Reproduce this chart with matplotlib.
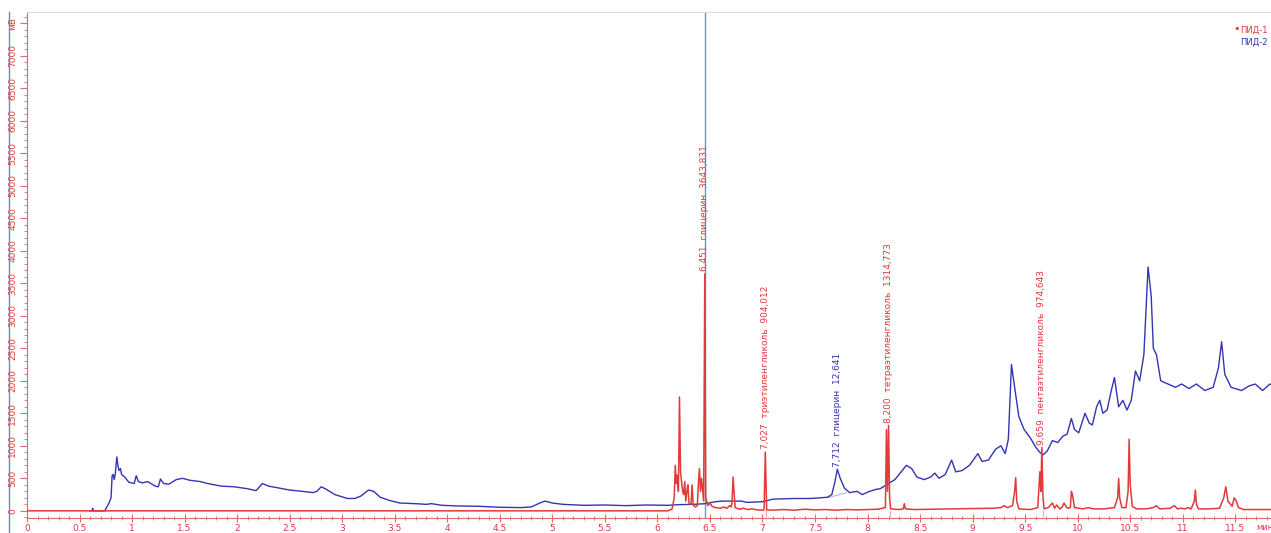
import numpy as np
import matplotlib.pyplot as plt
from matplotlib.ticker import MultipleLocator, FuncFormatter

plt.rcParams['font.family'] = ['DejaVu Sans']

# ПИД-1 (red detector trace): time, мВ
red_t = [0.0, 6.10, 6.14, 6.16, 6.17, 6.18, 6.19, 6.20, 6.21, 6.22, 6.23, 6.24,
         6.25, 6.26, 6.27, 6.28, 6.29, 6.30, 6.32, 6.33, 6.34, 6.36, 6.38, 6.39,
         6.40, 6.41, 6.42, 6.44, 6.451, 6.46, 6.48, 6.50, 6.52, 6.55, 6.60, 6.63,
         6.66, 6.69, 6.70, 6.71, 6.72, 6.74, 6.78, 6.82, 6.86, 6.90, 6.95, 7.00,
         7.015, 7.027, 7.04, 7.10, 7.20, 7.30, 7.40, 7.50, 7.60, 7.70, 7.80, 7.90,
         8.00, 8.10, 8.17, 8.18, 8.19, 8.200, 8.21, 8.22, 8.30, 8.34, 8.35, 8.36,
         8.45, 8.60, 8.80, 9.00, 9.20, 9.27, 9.30, 9.33, 9.38, 9.40, 9.41, 9.42,
         9.44, 9.55, 9.62, 9.64, 9.65, 9.659, 9.67, 9.68, 9.72, 9.76, 9.78, 9.80,
         9.83, 9.85, 9.87, 9.90, 9.93, 9.94, 9.95, 9.97, 10.05, 10.10, 10.15,
         10.25, 10.35, 10.38, 10.39, 10.40, 10.42, 10.46, 10.48, 10.49, 10.50,
         10.52, 10.56, 10.65, 10.72, 10.75, 10.78, 10.88, 10.92, 10.95, 10.98,
         11.02, 11.05, 11.08, 11.11, 11.12, 11.13, 11.15, 11.25, 11.35, 11.39,
         11.41, 11.43, 11.47, 11.49, 11.51, 11.53, 11.58, 11.70, 11.90]
red_v = [0, 0, 30, 200, 700, 420, 550, 300, 1750, 600, 450, 300,
         250, 450, 150, 300, 400, 120, 100, 400, 90, 60, 80, 420,
         650, 300, 500, 150, 3643.831, 200, 80, 120, 70, 50, 40, 60,
         40, 80, 60, 120, 520, 50, 25, 40, 20, 30, 15, 10,
         20, 904.012, 15, 10, 20, 10, 25, 15, 20, 10, 20, 15,
         20, 25, 50, 1250, 300, 1314.773, 200, 30, 20, 30, 110, 30,
         20, 25, 30, 35, 40, 50, 80, 50, 80, 300, 510, 150,
         30, 20, 50, 600, 300, 974.643, 200, 30, 50, 120, 40, 90,
         30, 50, 120, 40, 50, 300, 250, 50, 30, 50, 30,
         30, 50, 200, 500, 200, 50, 50, 300, 1100, 400,
         70, 30, 30, 50, 80, 30, 40, 80, 30, 40,
         30, 50, 30, 150, 320, 100, 30, 30, 40, 200,
         370, 150, 70, 200, 150, 50, 20, 20, 20]

# ПИД-2 (blue detector trace)
blue_t = [0.60, 0.62, 0.625, 0.63, 0.74, 0.76, 0.78, 0.80, 0.81, 0.82, 0.83,
          0.84, 0.855, 0.865, 0.875, 0.89, 0.90, 0.93, 0.97, 1.02, 1.04, 1.06,
          1.10, 1.15, 1.22, 1.25, 1.27, 1.30, 1.35, 1.42, 1.48, 1.55, 1.65,
          1.72, 1.85, 1.97, 2.10, 2.18, 2.24, 2.30, 2.40, 2.50, 2.62, 2.72,
          2.76, 2.80, 2.85, 2.93, 3.05, 3.12, 3.18, 3.25, 3.30, 3.36, 3.45,
          3.55, 3.70, 3.80, 3.85, 3.95, 4.10, 4.30, 4.50, 4.70, 4.80, 4.88,
          4.93, 5.00, 5.10, 5.30, 5.50, 5.70, 5.90, 6.10, 6.20, 6.35, 6.45,
          6.55, 6.62, 6.80, 6.85, 7.00, 7.10, 7.30, 7.45, 7.55, 7.62, 7.66,
          7.69, 7.712, 7.74, 7.78, 7.83, 7.90, 7.95, 8.02, 8.08, 8.12, 8.20,
          8.26, 8.30, 8.37, 8.42, 8.47, 8.54, 8.60, 8.64, 8.68, 8.74, 8.80,
          8.84, 8.90, 8.97, 9.05, 9.09, 9.15, 9.22, 9.27, 9.31, 9.34, 9.37,
          9.40, 9.44, 9.49, 9.55, 9.60, 9.64, 9.67, 9.71, 9.76, 9.81, 9.86,
          9.90, 9.94, 9.97, 10.01, 10.07, 10.11, 10.14, 10.18, 10.21, 10.24,
          10.28, 10.32, 10.35, 10.39, 10.43, 10.47, 10.51, 10.55, 10.59,
          10.63, 10.67, 10.70, 10.72, 10.75, 10.79, 10.86, 10.93, 10.99,
          11.06, 11.13, 11.21, 11.29, 11.34, 11.37, 11.40, 11.46, 11.56,
          11.63, 11.69, 11.76, 11.83, 11.90]
blue_v = [0, 0, 40, 0, 0, 60, 120, 200, 540, 560, 480,
          560, 830, 700, 620, 650, 560, 520, 440, 420, 540, 450,
          430, 450, 380, 370, 490, 420, 410, 480, 500, 470, 450,
          420, 380, 370, 340, 310, 420, 380, 350, 320, 300, 280,
          300, 370, 330, 250, 190, 190, 230, 320, 300, 210, 160,
          120, 110, 100, 110, 85, 75, 70, 55, 50, 60, 120,
          150, 120, 100, 85, 90, 80, 90, 85, 95, 100, 110,
          140, 150, 150, 130, 140, 180, 190, 190, 200, 210, 250,
          450, 640, 500, 350, 280, 300, 250, 300, 330, 340, 420,
          480, 560, 700, 650, 520, 480, 520, 580, 500, 560, 780,
          600, 620, 700, 880, 760, 780, 950, 1000, 880, 1100, 2250,
          1900, 1450, 1250, 1120, 980, 900, 860, 920, 1080, 1050, 1150,
          1180, 1420, 1250, 1200, 1500, 1350, 1320, 1600, 1700, 1500,
          1550, 1850, 2050, 1600, 1700, 1550, 1700, 2150, 2000,
          2400, 3750, 3300, 2500, 2400, 2000, 1950, 1900, 1950,
          1880, 1950, 1850, 1900, 2200, 2600, 2100, 1900, 1850,
          1920, 1950, 1850, 1950, 1900]

# peak annotations: time, height, text
red_labels = [(6.451, 3643.831, '6,451  глицерин  3643,831'),
              (7.027, 904.012, '7,027  триэтиленгликоль  904,012'),
              (8.200, 1314.773, '8,200  тетраэтиленгликоль  1314,773'),
              (9.659, 974.643, '9,659  пентаэтиленгликоль  974,643')]
blue_labels = [(7.712, 640, '7,712  глицерин  12,641')]

cursor_t = 6.451

RED = '#e03a3a'
BLUE = '#3434b4'
AXRED = '#e06a6a'

fig = plt.figure(figsize=(12.71, 5.33), dpi=100)
ax = fig.add_axes([27 / 1271, 15 / 533, 1244 / 1271, 506 / 533])
ax.set_xlim(0, 11.84)
ax.set_ylim(-110, 7670)

ax.axvline(cursor_t, color='#4aa3d8', lw=1.0, zorder=1)
ax.plot(blue_t, blue_v, color=BLUE, lw=1.0, zorder=2)
ax.plot(red_t, red_v, color=RED, lw=1.1, zorder=3)

# integration markers under the labelled peaks
for t, h, _ in red_labels[1:]:
    ax.plot([t + 0.01, t + 0.01], [0, -80], color='#f0a8a8', lw=0.8, zorder=2)
ax.plot([7.62, 7.80], [200, 280], color='#b0b8e8', lw=0.8, zorder=1)

for t, h, s in red_labels:
    ax.text(t, h + 40, s, rotation=90, ha='center', va='bottom',
            fontsize=6.5, color=RED)
for t, h, s in blue_labels:
    ax.text(t, h + 40, s, rotation=90, ha='center', va='bottom',
            fontsize=6.5, color=BLUE)

ax.spines['right'].set_visible(False)
ax.spines['top'].set_color('#dcdcdc')
ax.spines['top'].set_linewidth(0.8)
ax.spines['left'].set_color(AXRED)
ax.spines['bottom'].set_color(AXRED)

ax.xaxis.set_major_locator(MultipleLocator(0.5))
ax.xaxis.set_minor_locator(MultipleLocator(0.1))
ax.yaxis.set_major_locator(MultipleLocator(500))
ax.yaxis.set_minor_locator(MultipleLocator(100))
ax.xaxis.set_major_formatter(FuncFormatter(lambda v, p: '%g' % v))
# the top y tick carries the unit instead of a number
ax.yaxis.set_major_formatter(
    FuncFormatter(lambda v, p: 'мВ' if v >= 7500 else '%d' % v))
ax.tick_params(axis='x', which='major', direction='inout', length=6,
               color=AXRED, labelcolor=RED, labelsize=6.5, pad=1)
ax.tick_params(axis='x', which='minor', direction='inout', length=3, color=AXRED)
ax.tick_params(axis='y', which='major', direction='out', length=5,
               color=AXRED, labelcolor=RED, labelsize=6.5, pad=2)
ax.tick_params(axis='y', which='minor', direction='out', length=2.5, color=AXRED)
for lab in ax.get_yticklabels():
    lab.set_rotation(90)
    lab.set_va('center')

fig.text(1256 / 1271, 1 - 527 / 533, 'мин', ha='left', va='center',
         fontsize=6, color=RED)
fig.add_artist(plt.Line2D([9 / 1271, 9 / 1271], [0, 1 - 12 / 533],
                          color='#5a8ed8', lw=1.0))

# detector legend
fig.text(1233 / 1271, 1 - 29 / 533, '•', ha='left', va='center',
         fontsize=8, color=RED)
fig.text(1240 / 1271, 1 - 30 / 533, 'ПИД-1', ha='left', va='center',
         fontsize=6, color=RED)
fig.text(1240 / 1271, 1 - 42 / 533, 'ПИД-2', ha='left', va='center',
         fontsize=6, color=BLUE)

fig.savefig('out.png', dpi=100, facecolor='white')
